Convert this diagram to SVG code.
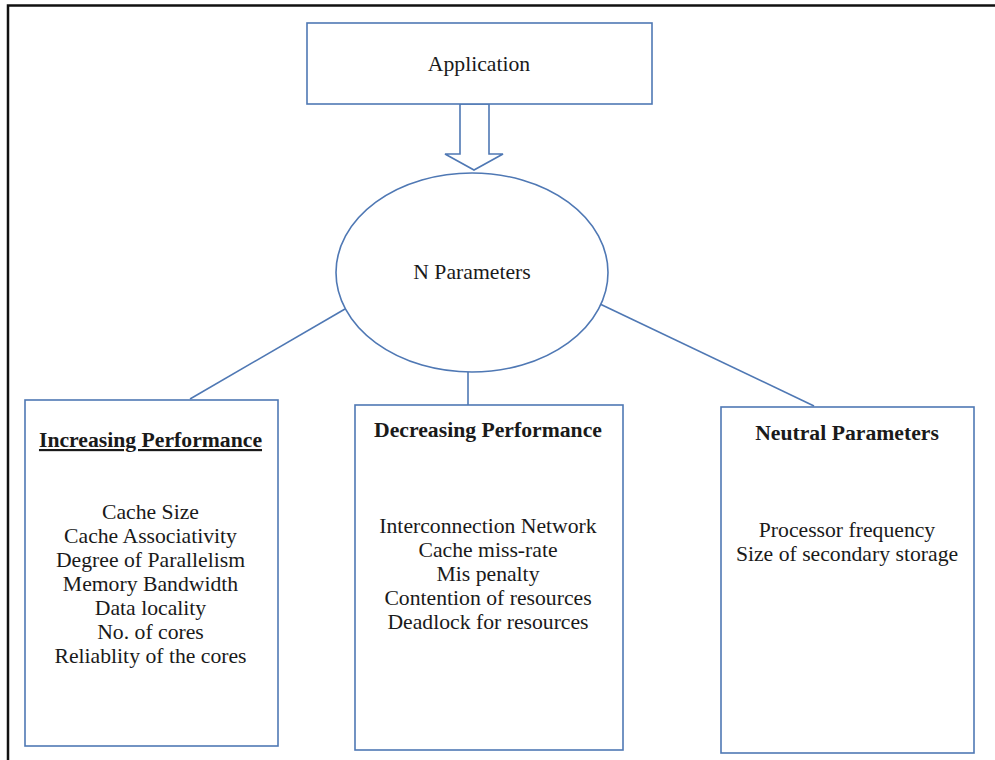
<svg xmlns="http://www.w3.org/2000/svg" width="995" height="760" viewBox="0 0 995 760">
  <style>
    .shape { fill: #ffffff; stroke: #4f78b4; stroke-width: 1.6; }
    .link { fill: none; stroke: #4f78b4; stroke-width: 1.6; }
    .txt { font-family: "Liberation Serif", "Times New Roman", serif; font-size: 21.7px; fill: #1a1a1a; text-anchor: middle; }
    .head { font-weight: bold; }
  </style>

  <rect width="995" height="760" fill="#ffffff"/>

  <!-- page frame: top and left edges only -->
  <path d="M8 760 V5.5 H995" fill="none" stroke="#111111" stroke-width="2.5"/>

  <g id="connectors">
    <polygon class="shape" points="460,104 460,154 445,154 474,170 503,154 489,154 489,104"/>
    <line class="link" x1="345" y1="309" x2="190" y2="399"/>
    <line class="link" x1="468" y1="372" x2="468" y2="405"/>
    <line class="link" x1="600" y1="304" x2="814" y2="406"/>
  </g>

  <g id="application">
    <rect class="shape" x="307" y="23" width="345" height="81"/>
    <text class="txt" x="479" y="71">Application</text>
  </g>

  <g id="n-parameters">
    <ellipse class="shape" cx="472" cy="272.5" rx="136" ry="99.5"/>
    <text class="txt" x="472" y="279">N Parameters</text>
  </g>

  <g id="increasing">
    <rect class="shape" x="25" y="400" width="253" height="346"/>
    <text class="txt head" x="150.5" y="447" text-decoration="underline">Increasing Performance</text>
    <text class="txt" x="150.5" y="519">Cache Size</text>
    <text class="txt" x="150.5" y="543">Cache Associativity</text>
    <text class="txt" x="150.5" y="567">Degree of Parallelism</text>
    <text class="txt" x="150.5" y="591">Memory Bandwidth</text>
    <text class="txt" x="150.5" y="615">Data locality</text>
    <text class="txt" x="150.5" y="639">No. of cores</text>
    <text class="txt" x="150.5" y="663">Reliablity of the cores</text>
  </g>

  <g id="decreasing">
    <rect class="shape" x="355" y="405" width="268" height="345"/>
    <text class="txt head" x="488" y="437">Decreasing Performance</text>
    <text class="txt" x="488" y="533">Interconnection Network</text>
    <text class="txt" x="488" y="557">Cache miss-rate</text>
    <text class="txt" x="488" y="581">Mis penalty</text>
    <text class="txt" x="488" y="605">Contention of resources</text>
    <text class="txt" x="488" y="629">Deadlock for resources</text>
  </g>

  <g id="neutral">
    <rect class="shape" x="721" y="407" width="253" height="346"/>
    <text class="txt head" x="847" y="440">Neutral Parameters</text>
    <text class="txt" x="847" y="537">Processor frequency</text>
    <text class="txt" x="847" y="561">Size of secondary storage</text>
  </g>
</svg>
